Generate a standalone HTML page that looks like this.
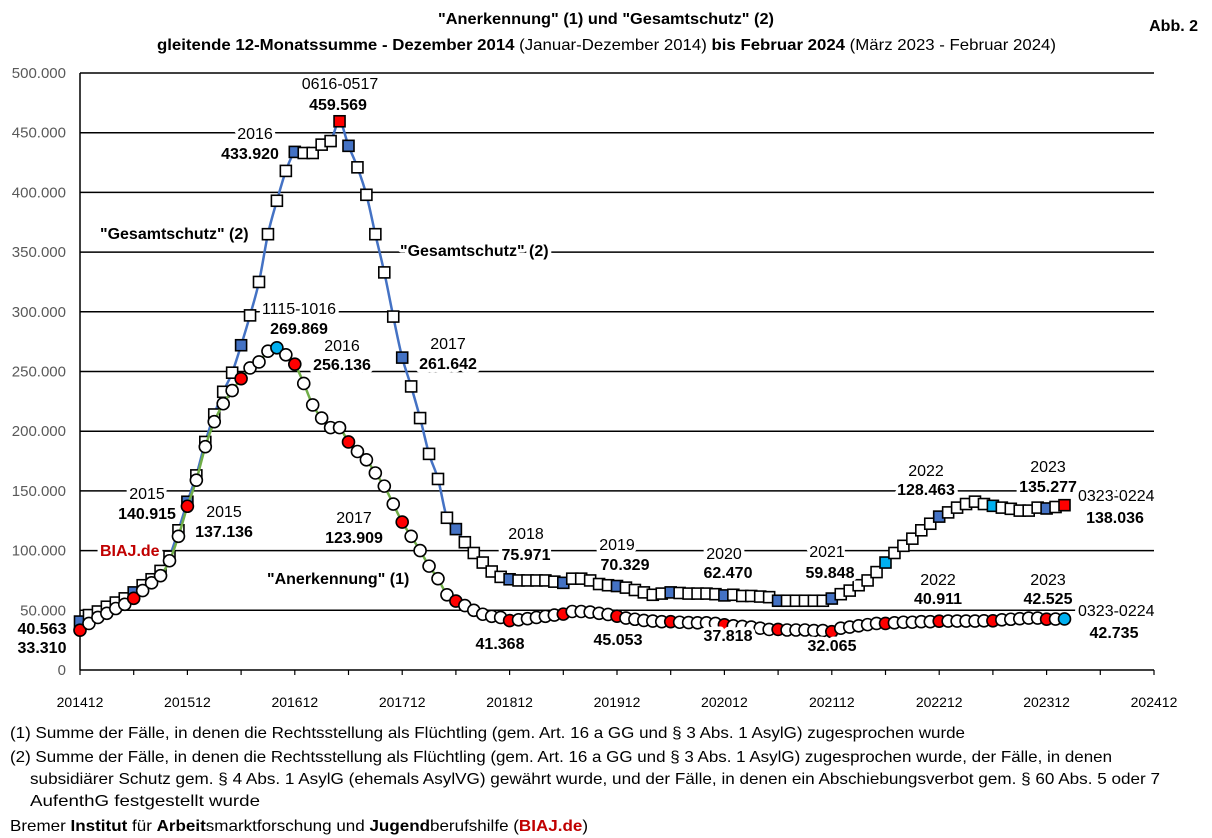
<!DOCTYPE html>
<html><head><meta charset="utf-8"><style>
html,body{margin:0;padding:0;background:#fff;}
svg{display:block;font-family:"Liberation Sans",sans-serif;}
.lb{paint-order:stroke;stroke:#fff;stroke-width:7px;stroke-linejoin:round;}
</style></head><body>
<svg id="chart" width="1212" height="838" viewBox="0 0 1212 838" xmlns="http://www.w3.org/2000/svg">
<text x="606" y="24" text-anchor="middle" font-size="16" font-weight="bold" textLength="336" lengthAdjust="spacingAndGlyphs">"Anerkennung" (1) und "Gesamtschutz" (2)</text>
<text x="157" y="50" font-size="16" textLength="899" lengthAdjust="spacingAndGlyphs"><tspan font-weight="bold">gleitende 12-Monatssumme - Dezember 2014 </tspan><tspan>(Januar-Dezember 2014)</tspan><tspan font-weight="bold"> bis Februar 2024 </tspan><tspan>(März 2023 - Februar 2024)</tspan></text>
<text x="1198" y="31" text-anchor="end" font-size="16" font-weight="bold">Abb. 2</text>
<g id="grid"></g>
<g id="yticks"></g>
<g id="xticks"></g>
<g id="series"></g>
<g id="labels" font-size="16"></g>
<g font-size="16" fill="#000">
<text x="10" y="738" textLength="955" lengthAdjust="spacingAndGlyphs">(1)  Summe der Fälle, in denen die Rechtsstellung als Flüchtling (gem. Art. 16 a GG und § 3 Abs. 1 AsylG) zugesprochen wurde</text>
<text x="10" y="762" textLength="1102" lengthAdjust="spacingAndGlyphs">(2)  Summe der Fälle, in denen die Rechtsstellung als Flüchtling (gem. Art. 16 a GG und § 3 Abs. 1 AsylG) zugesprochen wurde, der Fälle, in denen</text>
<text x="30" y="784" textLength="1130" lengthAdjust="spacingAndGlyphs">subsidiärer Schutz gem. § 4 Abs. 1 AsylG (ehemals AsylVG) gewährt wurde, und der Fälle, in denen ein Abschiebungsverbot gem. § 60 Abs. 5 oder 7</text>
<text x="30" y="806" textLength="230" lengthAdjust="spacingAndGlyphs">AufenthG festgestellt wurde</text>
<text x="10" y="831" textLength="578" lengthAdjust="spacingAndGlyphs">Bremer <tspan font-weight="bold">Institut</tspan> für <tspan font-weight="bold">Arbeit</tspan>smarktforschung und <tspan font-weight="bold">Jugend</tspan>berufshilfe (<tspan font-weight="bold" fill="#c00000">BIAJ.de</tspan>)</text>
</g>
</svg>
<script>
const gesamt = [40.563,
46,49,53,56.5,60,65,71,76,83,95,117,140.915,
163,191,214,233,249,272,297,325,365,393,418,433.92,
433,433,440,443,459.569,439,421,398,365,333,296,261.642,
237.5,211,181,160,127.5,118,107,98,90,82.5,78,75.971,
75,75,75,75,74,73,76.5,76.5,75,72,71,70.329,
69,67,65,63,64,65,64.5,64,64,64,63.5,62.47,
63,62,62,61.5,61,58,58,58,58,58,58,59.848,
63.5,66.5,71,75,82,90,98,104,110,117,122.5,128.463,
132,136,139,141,139,137.5,136,135,133.5,133.5,136,135.277,
136.5,138.036];
const anerkennung = [33.31,
39,44,47.5,51.5,55,60,66.5,73,79,91.5,112,137.136,
159,187,208,223,234,244,253,258,267,269.869,264,256.136,
240,222,211,203,203,191,183,176,165,154,139,123.909,
112,100,87,76.5,63,57.7,54,50,46.7,45,44,41.368,
42,43,44,45,46,46.8,49,49,48.5,47.5,46.5,45.053,
43.5,42.5,41.5,41,40.5,40.5,40,39.7,39.5,39.5,39,37.818,
37,36.5,36,35,34,34,33.5,33.5,33.5,33,33,32.065,
35,36,37,38,39,39,39.5,40,40,40.5,40.5,40.911,
41,41,41,41,41.2,41.2,42,42.5,43,43.5,43.5,42.525,
42.7,42.735];
const yTicks = [0,50,100,150,200,250,300,350,400,450,500];
const yTickLabels = ["0","50.000","100.000","150.000","200.000","250.000","300.000","350.000","400.000","450.000","500.000"];
const xTickLabels = ["201412","201512","201612","201712","201812","201912","202012","202112","202212","202312","202412"];

const NS="http://www.w3.org/2000/svg";
const X0=80, MONTH=8.95, Y0=670, KPX=1.194;
function xs(i){return X0+i*MONTH;}
function ys(v){return Y0-v*KPX;}
function mk(tag,parent){const e=document.createElementNS(NS,tag);parent.appendChild(e);return e;}

const grid=document.getElementById('grid');
yTicks.forEach((v,k)=>{
  if(v===0)return;
  const l=mk('line',grid);
  
  
  l.setAttribute('x1',X0);l.setAttribute('x2',xs(120));l.setAttribute('y1',ys(v));l.setAttribute('y2',ys(v));
  l.setAttribute('stroke','#000');l.setAttribute('stroke-width','1.5');
});
const ax=mk('line',grid);


ax.setAttribute('x1',X0);ax.setAttribute('x2',X0);ax.setAttribute('y1',ys(500));ax.setAttribute('y2',Y0);ax.setAttribute('stroke','#000');ax.setAttribute('stroke-width','1.5');
const axx=mk('line',grid);


axx.setAttribute('x1',X0);axx.setAttribute('x2',xs(120));axx.setAttribute('y1',Y0);axx.setAttribute('y2',Y0);axx.setAttribute('stroke','#000');axx.setAttribute('stroke-width','1.5');
for(let m=0;m<=120;m+=6){
  const t=mk('line',grid);
  
  
  t.setAttribute('x1',xs(m));t.setAttribute('x2',xs(m));t.setAttribute('y1',Y0);t.setAttribute('y2',Y0+5);t.setAttribute('stroke','#000');t.setAttribute('stroke-width','1.2');
}
const yt=document.getElementById('yticks');
yTicks.forEach((v,k)=>{
  const t=mk('text',yt);
  
  
  t.setAttribute('x',66);t.setAttribute('y',ys(v)+5);t.setAttribute('text-anchor','end');t.setAttribute('font-size','15');t.setAttribute('fill','#595959');
  t.textContent=yTickLabels[k];
});
const xt=document.getElementById('xticks');
xTickLabels.forEach((s,k)=>{
  const t=mk('text',xt);
  
  
  t.setAttribute('x',xs(k*12));t.setAttribute('y',707);t.setAttribute('text-anchor','middle');t.setAttribute('font-size','14');t.setAttribute('fill','#000');
  t.textContent=s;
});

function smoothPath(vals){
  const p=vals.map((v,i)=>[xs(i),ys(v)]);
  let d='M'+p[0][0]+','+p[0][1];
  for(let i=0;i<p.length-1;i++){
    const a=p[i-1]||p[i],b=p[i],c=p[i+1],e=p[i+2]||c;
    const c1=[b[0]+(c[0]-a[0])/6,b[1]+(c[1]-a[1])/6];
    const c2=[c[0]-(e[0]-b[0])/6,c[1]-(e[1]-b[1])/6];
    d+=' C'+c1[0].toFixed(1)+','+c1[1].toFixed(1)+' '+c2[0].toFixed(1)+','+c2[1].toFixed(1)+' '+c[0].toFixed(1)+','+c[1].toFixed(1);
  }
  return d;
}
const ser=document.getElementById('series');
const gl=mk('path',ser);


gl.setAttribute('d',smoothPath(gesamt));gl.setAttribute('fill','none');gl.setAttribute('stroke','#4472c4');gl.setAttribute('stroke-width','2.5');
gesamt.forEach((v,i)=>{
  let f='#fff';
  if(i%6===0)f='#4472c4';
  if(i===90||i===102)f='#00b0f0';
  if(i===29||i===gesamt.length-1)f='#ff0000';
  const r=mk('rect',ser);
  
  
  r.setAttribute('x',xs(i)-5.5);r.setAttribute('y',ys(v)-5.5);r.setAttribute('width',11);r.setAttribute('height',11);
  r.setAttribute('fill',f);r.setAttribute('stroke','#000');r.setAttribute('stroke-width','1.6');
});
const al=mk('path',ser);


al.setAttribute('d',smoothPath(anerkennung));al.setAttribute('fill','none');al.setAttribute('stroke','#70ad47');al.setAttribute('stroke-width','2.5');
anerkennung.forEach((v,i)=>{
  let f='#fff';
  if(i%6===0)f='#ff0000';
  if(i===22||i===anerkennung.length-1)f='#00b0f0';
  const c=mk('circle',ser);
  
  
  c.setAttribute('cx',xs(i));c.setAttribute('cy',ys(v));c.setAttribute('r',6);
  c.setAttribute('fill',f);c.setAttribute('stroke','#000');c.setAttribute('stroke-width','1.6');
});

const anns=[
 ["0616-0517",340,89,"n","middle"],["459.569",338,110,"b","middle"],
 ["2016",255,139,"n","middle"],["433.920",250,159,"b","middle"],
 ["\"Gesamtschutz\" (2)",100,239,"b","start"],
 ["\"Gesamtschutz\" (2)",400,256,"b","start"],
 ["1115-1016",299,314,"n","middle"],["269.869",299,334,"b","middle"],
 ["2016",342,351,"n","middle"],["256.136",342,370,"b","middle"],
 ["2017",448,349,"n","middle"],["261.642",448,369,"b","middle"],
 ["2015",147,499,"n","middle"],["140.915",147,519,"b","middle"],
 ["2015",224,517,"n","middle"],["137.136",224,537,"b","middle"],
 ["2017",354,523,"n","middle"],["123.909",354,543,"b","middle"],
 ["\"Anerkennung\" (1)",267,584,"b","start"],
 ["2018",526,539,"n","middle"],["75.971",526,560,"b","middle"],
 ["2019",617,550,"n","middle"],["70.329",625,570,"b","middle"],
 ["2020",724,559,"n","middle"],["62.470",728,578,"b","middle"],
 ["2021",827,557,"n","middle"],["59.848",830,578,"b","middle"],
 ["2022",926,476,"n","middle"],["128.463",926,495,"b","middle"],
 ["2023",1048,472,"n","middle"],["135.277",1048,492,"b","middle"],
 ["0323-0224",1078,501,"n","start"],["138.036",1115,523,"b","middle"],
 ["2022",938,585,"n","middle"],["40.911",938,604,"b","middle"],
 ["2023",1048,585,"n","middle"],["42.525",1048,604,"b","middle"],
 ["0323-0224",1078,616,"n","start"],["42.735",1114,638,"b","middle"],
 ["41.368",500,649,"b","middle"],["45.053",618,645,"b","middle"],
 ["37.818",728,641,"b","middle"],["32.065",832,651,"b","middle"],
 ["40.563",42,634,"b","middle"],["33.310",42,653,"b","middle"]
];
const lg=document.getElementById('labels');
anns.forEach(a=>{
  const t=mk('text',lg);
  
  
  t.setAttribute('x',a[1]);t.setAttribute('y',a[2]);t.setAttribute('text-anchor',a[4]);
  t.setAttribute('class','lb');
  if(a[3]==='b')t.setAttribute('font-weight','bold');
  t.textContent=a[0];
});
const bj=mk('text',lg);


bj.setAttribute('x',100);bj.setAttribute('y',556);bj.setAttribute('font-weight','bold');bj.setAttribute('fill','#c00000');bj.setAttribute('class','lb');
bj.textContent='BIAJ.de';
</script>
</body></html>
